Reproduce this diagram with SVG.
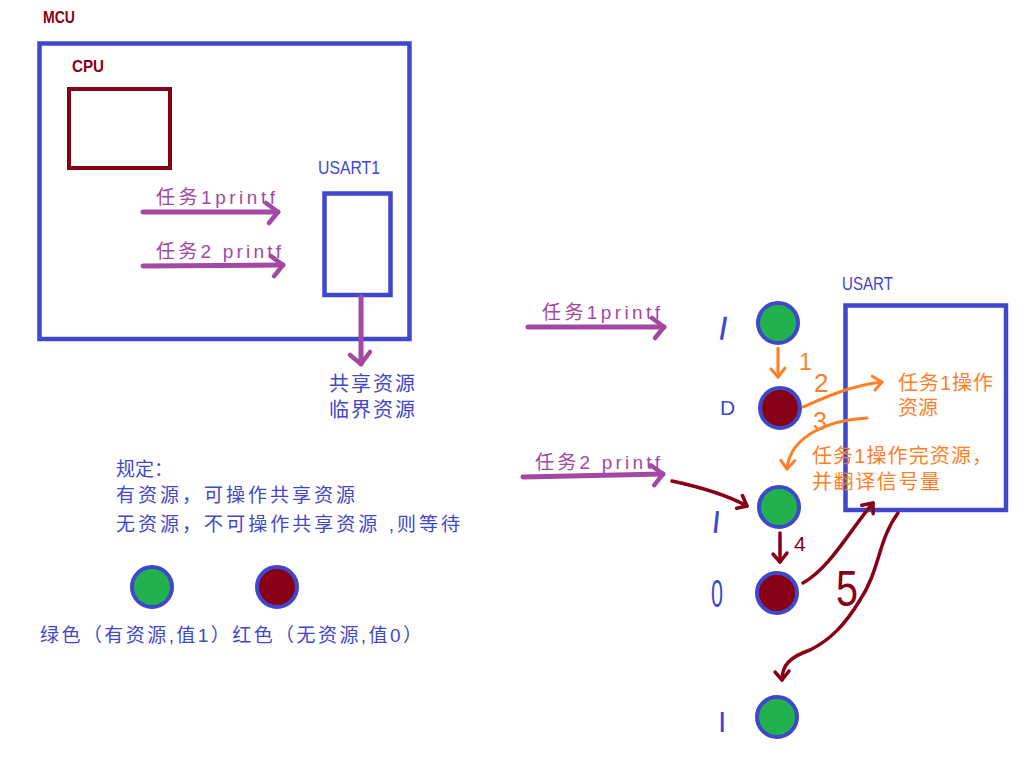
<svg xmlns="http://www.w3.org/2000/svg" width="1035" height="758" viewBox="0 0 1035 758">
<style>
text{font-family:"Liberation Sans","Noto Sans CJK SC",sans-serif}
.blue{fill:#3F48CC}
.dred{fill:#880015}
.purp{fill:#A349A4}
.org{fill:#FF7F27}
.box{fill:none;stroke:#3F48CC;stroke-width:4.5}
.cpu{fill:none;stroke:#880015;stroke-width:4}
.g{fill:#22B14C;stroke:#3F48CC;stroke-width:4}
.r{fill:#880015;stroke:#3F48CC;stroke-width:4}
.pa{fill:none;stroke:#A349A4;stroke-width:5;stroke-linecap:round;marker-end:url(#mp)}
.oa{fill:none;stroke:#FF7F27;stroke-width:3;stroke-linecap:round;marker-end:url(#mo)}
.da{fill:none;stroke:#880015;stroke-width:3.5;stroke-linecap:round;marker-end:url(#md)}
</style>
<defs>
<marker id="mp" markerUnits="userSpaceOnUse" viewBox="-16 -14 20 28" refX="0" refY="0" markerWidth="20" markerHeight="28" orient="auto" overflow="visible">
<path d="M-12,-9 L0,0 L-9,11" fill="none" stroke="#A349A4" stroke-width="4.5" stroke-linecap="round" stroke-linejoin="round"/>
</marker>
<marker id="mo" markerUnits="userSpaceOnUse" viewBox="-14 -10 18 20" refX="0" refY="0" markerWidth="18" markerHeight="20" orient="auto" overflow="visible">
<path d="M-9,-7 L0,0 L-8,7" fill="none" stroke="#FF7F27" stroke-width="3" stroke-linecap="round" stroke-linejoin="round"/>
</marker>
<marker id="md" markerUnits="userSpaceOnUse" viewBox="-14 -10 18 20" refX="0" refY="0" markerWidth="18" markerHeight="20" orient="auto" overflow="visible">
<path d="M-9,-7 L0,0 L-8,7" fill="none" stroke="#880015" stroke-width="3.5" stroke-linecap="round" stroke-linejoin="round"/>
</marker>
</defs>
<rect width="1035" height="758" fill="#ffffff"/>

<g id="mcu">
<text x="43" y="23" class="dred" font-size="17" font-weight="bold" textLength="32" lengthAdjust="spacingAndGlyphs">MCU</text>
<rect x="39.5" y="43.5" width="370" height="295.5" class="box"/>
</g>
<g id="cpu">
<text x="72" y="72" class="dred" font-size="17" font-weight="bold" textLength="32" lengthAdjust="spacingAndGlyphs">CPU</text>
<rect x="69" y="89" width="101" height="79" class="cpu"/>
</g>
<g id="usart1">
<text x="318" y="174" class="blue" font-size="19" textLength="62" lengthAdjust="spacingAndGlyphs">USART1</text>
<rect x="324.5" y="193.5" width="66" height="101.5" class="box"/>
</g>
<g id="shared-label">
<text x="329" y="391" class="blue" font-size="20" textLength="86">共享资源</text>
<text x="329" y="417" class="blue" font-size="20" textLength="86">临界资源</text>
</g>
<g id="rules">
<text x="116" y="476" class="blue" font-size="19" textLength="57">规定：</text>
<text x="116" y="502" class="blue" font-size="19" textLength="239">有资源，可操作共享资源</text>
<text x="116" y="531" class="blue" font-size="19" textLength="344">无资源，不可操作共享资源 ,则等待</text>
</g>
<g id="legend-green"><circle cx="152" cy="587" r="20" class="g"/></g>
<g id="legend-red"><circle cx="277" cy="587" r="20" class="r"/></g>
<g id="legend-label">
<text x="40" y="642" class="blue" font-size="19" textLength="382">绿色（有资源,值1）红色（无资源,值0）</text>
</g>

<g id="usart">
<text x="842" y="290" class="blue" font-size="18" textLength="51" lengthAdjust="spacingAndGlyphs">USART</text>
<rect x="845.5" y="305.5" width="160.5" height="204.5" class="box" stroke-width="5"/>
</g>
<g id="sem1"><circle cx="778" cy="323" r="20" class="g"/><text x="719" y="340" class="blue" font-size="34" transform="rotate(10 723 327)">I</text></g>
<g id="sem2"><circle cx="780" cy="408" r="20" class="r"/><text x="720" y="415" class="blue" font-size="21">D</text></g>
<g id="sem3"><circle cx="779" cy="507" r="20" class="g"/><text x="712" y="533" class="blue" font-size="32" transform="rotate(6 716 522)">I</text></g>
<g id="sem4"><circle cx="777" cy="593" r="20" class="r"/><text x="711" y="607" class="blue" font-size="38" textLength="12" lengthAdjust="spacingAndGlyphs">0</text></g>
<g id="sem5"><circle cx="777" cy="717" r="20" class="g"/><text x="718" y="732" class="blue" font-size="30">I</text></g>

<g id="task-labels">
<text x="156" y="204" class="purp" font-size="19" textLength="119">任务1printf</text>
<text x="156" y="258" class="purp" font-size="19" textLength="125">任务2 printf</text>
<text x="542" y="319" class="purp" font-size="19" textLength="118">任务1printf</text>
<text x="535" y="469" class="purp" font-size="19" textLength="125">任务2 printf</text>
</g>
<g id="orange-labels">
<text x="898" y="390" class="org" font-size="20" textLength="95">任务1操作</text>
<text x="898" y="415" class="org" font-size="20" textLength="40">资源</text>
<text x="812" y="463" class="org" font-size="20" textLength="180">任务1操作完资源，</text>
<text x="812" y="489" class="org" font-size="20" textLength="128">并翻译信号量</text>
<text x="799" y="370" class="org" font-size="23">1</text>
<text x="814" y="392" class="org" font-size="26">2</text>
<text x="813" y="430" class="org" font-size="25">3</text>
</g>
<g id="darkred-labels">
<text x="794" y="551" class="dred" font-size="21">4</text>
<text x="836" y="606" class="dred" font-size="50" textLength="22" lengthAdjust="spacingAndGlyphs">5</text>
</g>

<g id="connectors">
<path d="M143,212 L278,212" class="pa"/>
<path d="M143,266 L283,265" class="pa"/>
<path d="M361,297 L361,364" class="pa"/>
<path d="M528,327 L664,327" class="pa"/>
<path d="M523,477 L663,474" class="pa"/>
<path d="M778,348 L778,377" class="oa"/>
<path d="M803,407 C828,396 850,386 882,382" class="oa"/>
<path d="M867,418 C830,420 790,435 787,469" class="oa"/>
<path d="M672,481 C700,487 725,494 747,506" class="da"/>
<path d="M780,533 L780,562" class="da"/>
<path d="M803,583 C830,568 850,530 873,503" class="da"/>
<path d="M898,513 C878,540 880,570 860,600 C845,625 830,640 810,650 C790,657 782,665 782,680" class="da"/>
</g>
</svg>
